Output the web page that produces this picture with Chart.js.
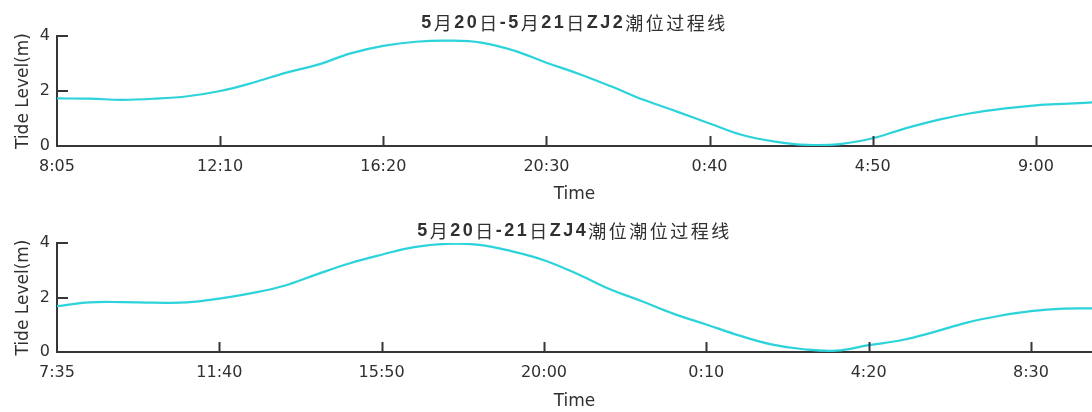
<!DOCTYPE html>
<html>
<head>
<meta charset="utf-8">
<script src="https://cdn.jsdelivr.net/npm/chart.js@4/dist/chart.umd.min.js"></script>
<style>
  html, body { margin: 0; padding: 0; background: #ffffff; }
  .panel { width: 1092px; height: 206px; }
  canvas { display: block; }
</style>
</head>
<body>
<div class="panel"><canvas id="zj2" width="1092" height="206"></canvas></div>
<div class="panel"><canvas id="zj4" width="1092" height="206"></canvas></div>
<script>
// ZJ2 gauge: minutes after 8:05 on 20 May, sampled every 50 minutes
const zj2Minutes = [0, 50, 100, 150, 200, 250, 300, 350, 400, 450, 500, 550, 600, 650, 700, 750, 800,
  850, 900, 950, 1000, 1050, 1100, 1150, 1200, 1250, 1300, 1350, 1400, 1450, 1500, 1550, 1600];
const zj2Level = [1.73, 1.72, 1.68, 1.72, 1.81, 2.00, 2.30, 2.66, 2.96, 3.37, 3.64, 3.79, 3.83, 3.76, 3.47, 3.03, 2.62,
  2.16, 1.67, 1.25, 0.82, 0.40, 0.16, 0.04, 0.07, 0.28, 0.64, 0.95, 1.19, 1.36, 1.48, 1.54, 1.60];
const zj2TickMinutes = [0, 250, 500, 750, 1000, 1250, 1500];
const zj2TickLabels = ['8:05', '12:10', '16:20', '20:30', '0:40', '4:50', '9:00'];

// ZJ4 gauge: minutes after 7:35 on 20 May, sampled every 50 minutes
const zj4Minutes = [0, 50, 100, 150, 200, 250, 300, 350, 400, 450, 500, 550, 600, 650, 700, 750, 800,
  850, 900, 950, 1000, 1050, 1100, 1150, 1200, 1250, 1300, 1350, 1400, 1450, 1500, 1550, 1600];
const zj4Level = [1.68, 1.82, 1.83, 1.81, 1.82, 1.96, 2.16, 2.43, 2.85, 3.25, 3.57, 3.85, 3.97, 3.93, 3.70, 3.37, 2.88,
  2.32, 1.87, 1.40, 1.01, 0.61, 0.28, 0.10, 0.05, 0.25, 0.43, 0.73, 1.07, 1.32, 1.50, 1.59, 1.60];
const zj4TickMinutes = [0, 250, 500, 750, 1000, 1250, 1500];
const zj4TickLabels = ['7:35', '11:40', '15:50', '20:00', '0:10', '4:20', '8:30'];

const levelTicks = [0, 2, 4];

const AXIS = '#363636';
const TEXT = '#303030';
const LINE = 'rgb(44, 211, 218)';

// Title with bold Latin runs and regular CJK runs, centred over the plot area
function drawMixedTitle(ctx, text, cx, cy) {
  const isCJK = /[\u4e00-\u9fff]/;
  const runs = text.match(/[\u4e00-\u9fff]+|[^\u4e00-\u9fff]+/g);
  const fontFor = r => isCJK.test(r) ? '18px "Noto Sans CJK SC"' : 'bold 18px "Liberation Sans"';
  ctx.save();
  ctx.letterSpacing = '2.5px';
  ctx.textBaseline = 'middle';
  ctx.textAlign = 'left';
  ctx.fillStyle = TEXT;
  const widths = runs.map(r => { ctx.font = fontFor(r); return ctx.measureText(r).width; });
  let x = cx - widths.reduce((a, b) => a + b, 0) / 2;
  runs.forEach((r, i) => {
    ctx.font = fontFor(r);
    ctx.fillText(r, x, cy);
    x += widths[i];
  });
  ctx.restore();
}

// Inward tick marks and the panel title
const panelDecor = {
  id: 'panelDecor',
  afterDraw(chart, args, opts) {
    const { ctx, chartArea: a } = chart;
    const xs = chart.scales.x, ys = chart.scales.y;
    ctx.save();
    ctx.strokeStyle = AXIS;
    ctx.lineWidth = 2;
    ctx.beginPath();
    xs.ticks.forEach(t => {
      if (t.value === xs.min) return;
      const px = Math.round(xs.getPixelForValue(t.value)) + 0.5;
      ctx.moveTo(px, a.bottom);
      ctx.lineTo(px, a.bottom - 10);
    });
    ys.ticks.forEach(t => {
      if (t.value === ys.min) return;
      const py = Math.round(ys.getPixelForValue(t.value));
      ctx.moveTo(a.left, py);
      ctx.lineTo(a.left + 11, py);
    });
    ctx.stroke();
    ctx.restore();
    drawMixedTitle(ctx, opts.text, (a.left + a.right) / 2, opts.titleY);
  }
};

function makePanel(canvasId, minutes, levels, tickMinutes, tickLabels, xMax, title, opt) {
  const points = minutes.map((m, i) => ({ x: m, y: levels[i] }));
  return new Chart(document.getElementById(canvasId), {
    type: 'line',
    data: {
      datasets: [{
        data: points,
        borderColor: LINE,
        borderWidth: 2.2,
        pointRadius: 0,
        tension: 0.4,
        fill: false
      }]
    },
    options: {
      responsive: false,
      animation: false,
      devicePixelRatio: 1,
      layout: { padding: { top: opt.top, left: 0, right: 0, bottom: 0 } },
      plugins: {
        legend: { display: false },
        tooltip: { enabled: false },
        panelDecor: { text: title, titleY: opt.titleY }
      },
      scales: {
        x: {
          type: 'linear',
          min: 0,
          max: xMax,
          grid: { display: false, drawTicks: false },
          border: { display: true, color: AXIS, width: 2 },
          afterBuildTicks: s => { s.ticks = tickMinutes.map(v => ({ value: v })); },
          afterFit: s => { s.height = 60; },
          ticks: {
            autoSkip: false,
            maxRotation: 0,
            padding: 11,
            color: TEXT,
            font: { family: 'DejaVu Sans', size: 16 },
            callback: (v, i) => tickLabels[i]
          },
          title: {
            display: true,
            text: 'Time',
            color: TEXT,
            font: { family: 'DejaVu Sans', size: 17 },
            padding: { top: 0, bottom: opt.timePad }
          }
        },
        y: {
          min: 0,
          max: 4,
          grid: { display: false, drawTicks: false },
          border: { display: true, color: AXIS, width: 2 },
          afterBuildTicks: s => { s.ticks = levelTicks.map(v => ({ value: v })); },
          afterFit: s => { s.width = 57; },
          ticks: {
            padding: 7,
            color: TEXT,
            font: { family: 'DejaVu Sans', size: 16 }
          },
          title: {
            display: true,
            text: 'Tide Level(m)',
            color: TEXT,
            font: { family: 'DejaVu Sans', size: 17 },
            padding: { top: 13, bottom: 0 }
          }
        }
      }
    },
    plugins: [panelDecor]
  });
}

makePanel('zj2', zj2Minutes, zj2Level, zj2TickMinutes, zj2TickLabels, 1586,
  '5月20日-5月21日ZJ2潮位过程线', { top: 36, titleY: 23, timePad: 1 });
makePanel('zj4', zj4Minutes, zj4Level, zj4TickMinutes, zj4TickLabels, 1594,
  '5月20日-21日ZJ4潮位潮位过程线', { top: 37, titleY: 25, timePad: 0 });
</script>
</body>
</html>
